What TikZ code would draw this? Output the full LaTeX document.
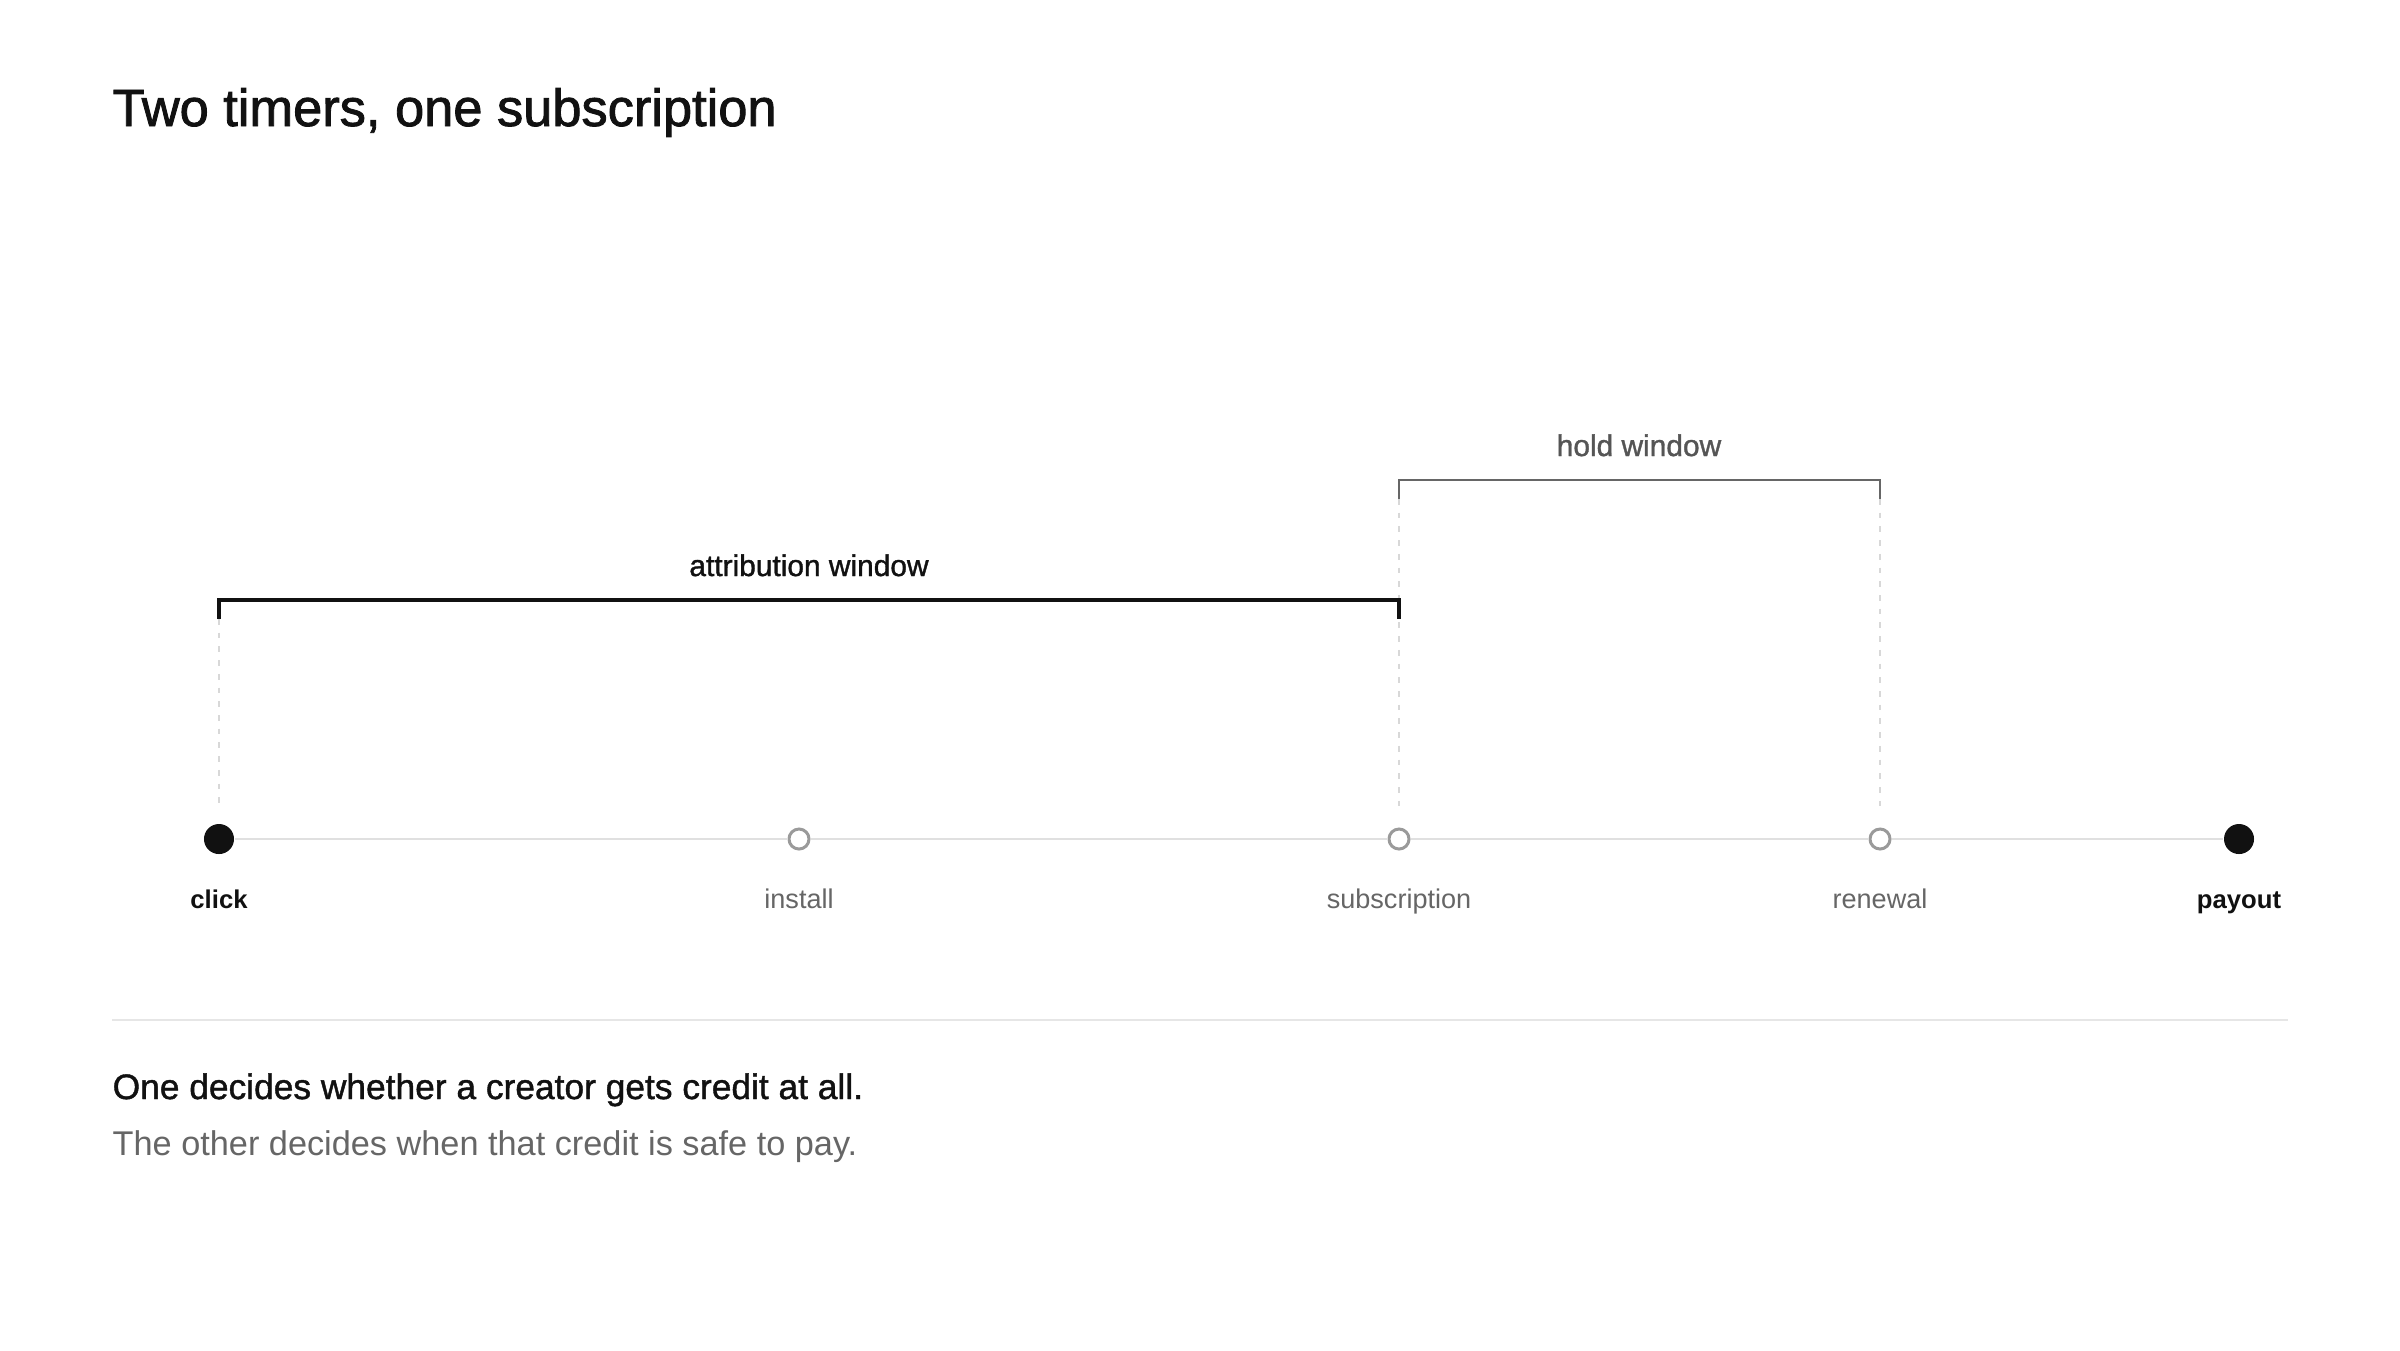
\documentclass[tikz,border=0pt]{standalone}
\usepackage{fontspec}
\setmainfont{Liberation Sans}
\newfontfamily\medfont{Liberation Sans}[FakeBold=1.6]
\newfontfamily\semifont{Liberation Sans}[FakeBold=1.2]
\definecolor{ink}{HTML}{111111}
\definecolor{midgray}{HTML}{555555}
\definecolor{labgray}{HTML}{666666}
\definecolor{ringgray}{HTML}{9A9A9A}
\definecolor{trackgray}{HTML}{E0E0E0}
\definecolor{guidegray}{HTML}{D8D8D8}
\definecolor{sepgray}{HTML}{E6E6E6}
\begin{document}
\begin{tikzpicture}[x=0.01cm,y=-0.01cm,
  bigdot/.style={circle,fill=ink,draw=none,minimum size=0.3cm,inner sep=0pt},
  ring/.style={circle,fill=white,draw=ringgray,line width=0.85pt,minimum size=0.2cm,inner sep=0pt},
  track/.style={draw=trackgray,line width=0.6pt},
  guide/.style={draw=guidegray,line width=0.6pt,dash pattern=on 1.6pt off 2.3pt},
  attrbr/.style={draw=ink,line width=0.9pt},
  holdbr/.style={draw=labgray,line width=0.78pt},
  lab/.style={anchor=base,inner sep=0pt,text=labgray,font=\fontsize{7.7pt}{9pt}\selectfont},
  keylab/.style={anchor=base,inner sep=0pt,text=ink,font=\bfseries\fontsize{7.3pt}{9pt}\selectfont},
  winlab/.style={anchor=base,inner sep=0pt,font=\semifont\fontsize{8.5pt}{10pt}\selectfont},
  sepline/.style={draw=sepgray,line width=0.57pt}]
\useasboundingbox (0,0) rectangle (2400,1350);
\fill[white] (0,0) rectangle (2400,1350);

% title
\node[anchor=base west,inner sep=0pt,text=ink,font=\medfont\fontsize{14.9pt}{18pt}\selectfont] (title) at (112,126) {Two timers, one subscription};

% timeline points
\node[bigdot] (click) at (219,839) {};
\node[ring] (install) at (799,839) {};
\node[ring] (subscr) at (1399,839) {};
\node[ring] (renew) at (1880,839) {};
\node[bigdot] (payout) at (2239,839) {};

\draw[track] (click) -- (install);
\draw[track] (install) -- (subscr);
\draw[track] (subscr) -- (renew);
\draw[track] (renew) -- (payout);

% point labels
\node[keylab] (lclick) at (219,908) {click};
\node[lab] (linstall) at (799,908) {install};
\node[lab] (lsubscr) at (1399,908) {subscription};
\node[lab] (lrenew) at (1880,908) {renewal};
\node[keylab] (lpayout) at (2239,908) {payout};

% bracket coordinates
\coordinate (a1) at (219,619);
\coordinate (a2) at (219,600);
\coordinate (a3) at (1399,600);
\coordinate (a4) at (1399,619);
\coordinate (h1) at (1399,499);
\coordinate (h2) at (1399,480);
\coordinate (h3) at (1880,480);
\coordinate (h4) at (1880,499);

% dashed guides
\draw[guide,shorten >=4.3pt] (a1) -- (click);
\draw[guide,shorten >=5.5pt] (h1) -- (subscr);
\draw[guide,shorten >=5.5pt] (h4) -- (renew);

% brackets
\draw[attrbr] (a1) -- (a2) -- (a3) -- (a4);
\draw[holdbr] (h1) -- (h2) -- (h3) -- (h4);

\node[winlab,text=ink] (lattr) at (809,576) {attribution window};
\node[winlab,text=midgray] (lhold) at (1639,456) {hold window};

% separator
\coordinate (s1) at (112,1020);
\coordinate (s2) at (2288,1020);
\draw[sepline] (s1) -- (s2);

% caption
\node[anchor=base west,inner sep=0pt,text=ink,font=\semifont\fontsize{10.05pt}{12pt}\selectfont] (cap1) at (112,1099) {One decides whether a creator gets credit at all.};
\node[anchor=base west,inner sep=0pt,text=labgray,font=\fontsize{9.75pt}{12pt}\selectfont] (cap2) at (112,1155) {The other decides when that credit is safe to pay.};
\end{tikzpicture}
\end{document}
